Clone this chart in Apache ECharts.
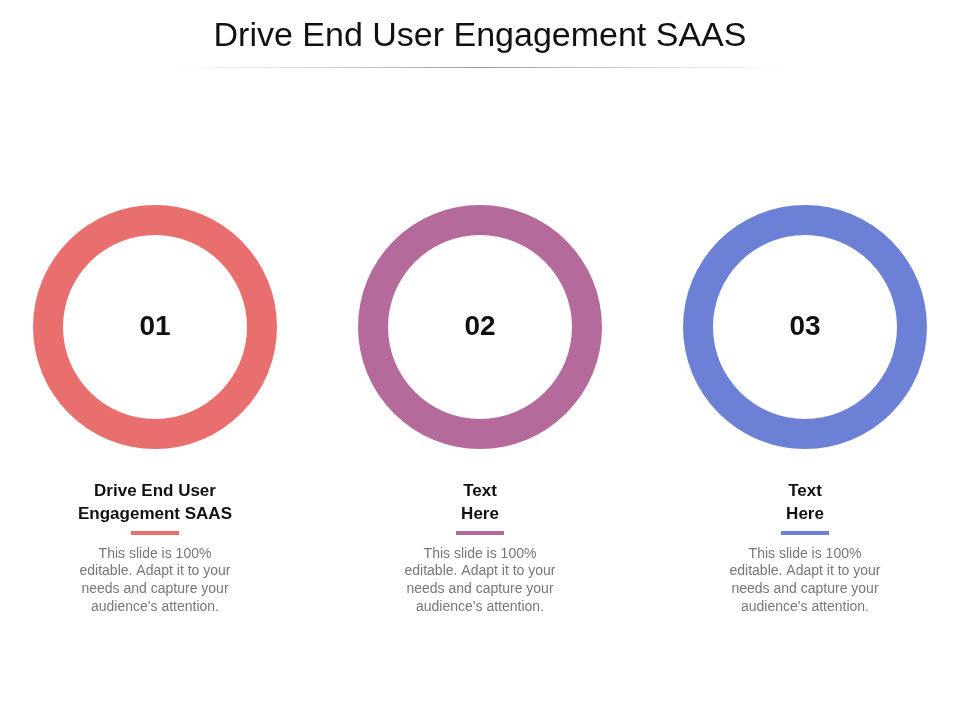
<!DOCTYPE html>
<html><head><meta charset="utf-8">
<script src="https://cdn.jsdelivr.net/npm/echarts@6/dist/echarts.min.js"></script>
<style>html,body{margin:0;padding:0;background:#fff}#c{width:960px;height:720px}</style>
</head><body><div id="c"></div>
<script>
const numbers = ['01','02','03'];
const headings = ['Drive End User\nEngagement SAAS','Text\nHere','Text\nHere'];
const values = [100,100,100];
const bodyText = "This slide is 100%\neditable. Adapt it to your\nneeds and capture your\naudience's attention.";
const colors = ['#E86F6E','#B46A9B','#6C81D6'];
const cx = [155,480,805];

const chart = echarts.init(document.getElementById('c'));
const series = numbers.map((n,i)=>({
  type:'pie', center:[cx[i],327], radius:[92,122], silent:true,
  label:{show:true,position:'center',formatter:n,fontSize:28,fontWeight:'bold',color:'#111',fontFamily:'Liberation Sans'},
  labelLine:{show:false},
  itemStyle:{color:colors[i]},
  data:[{value:values[i],name:n}]
}));
const g = [
  {type:'text',left:'center',top:20,style:{text:'Drive End User Engagement SAAS',font:'34px "Liberation Sans"',fill:'#111'}},
  {type:'rect',shape:{x:165,y:67,width:630,height:1},style:{fill:new echarts.graphic.LinearGradient(0,0,1,0,[{offset:0,color:'rgba(180,180,180,0)'},{offset:0.5,color:'#999'},{offset:1,color:'rgba(180,180,180,0)'}])}}
];
numbers.forEach((n,i)=>{
  g.push({type:'text',x:cx[i],y:480,style:{text:headings[i],font:'bold 17px "Liberation Sans"',fill:'#111',align:'center',lineHeight:23}});
  g.push({type:'rect',shape:{x:cx[i]-24,y:531,width:48,height:4},style:{fill:colors[i]}});
  g.push({type:'text',x:cx[i],y:545,style:{text:bodyText,font:'14px "Liberation Sans"',fill:'#777',align:'center',lineHeight:17.7}});
});
chart.setOption({animation:false,series,graphic:g});
</script></body></html>
